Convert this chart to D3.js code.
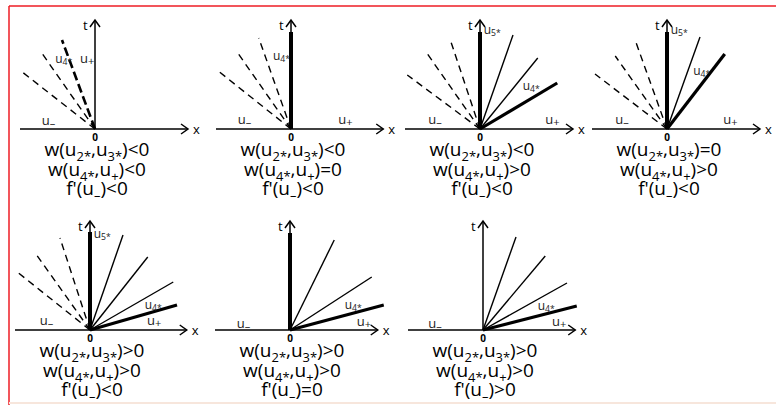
<!DOCTYPE html>
<html>
<head>
<meta charset="utf-8">
<script src="https://cdn.jsdelivr.net/npm/d3@7"></script>
<style>
  body { margin: 0; background: #fff; }
  svg { display: block; }
</style>
</head>
<body>
<svg id="chart"></svg>
<script>
const W = 776, H = 405;

// sign conditions written under each sketch
const w23Sign = ["<0", "<0", "<0", "=0", ">0", ">0", ">0"];
const w4Sign  = ["<0", "=0", ">0", ">0", ">0", ">0", ">0"];
const fSign   = ["<0", "<0", "<0", "<0", "<0", "=0", ">0"];

// rays from the origin, end points given as [x, t]
const dashedRays = [
  [[-0.44, 0.89], [-0.71, 0.76], [-0.97, 0.57]],
  [[-0.43, 0.91], [-0.71, 0.76], [-0.97, 0.58]],
  [[-0.40, 0.90], [-0.71, 0.76], [-0.97, 0.54]],
  [[-0.43, 0.90], [-0.69, 0.73], [-0.96, 0.55]],
  [[-0.40, 0.92], [-0.73, 0.77], [-0.97, 0.58]],
  [],
  []
];
// which dashed ray is drawn heavy (-1 = none)
const heavyDashed = [0, -1, -1, -1, -1, -1, -1];
const thinRays = [
  [],
  [],
  [[0.44, 0.94], [0.77, 0.71]],
  [[0.44, 0.92]],
  [[0.44, 0.95], [0.77, 0.73], [1.11, 0.48]],
  [[0.59, 0.90], [1.09, 0.53]],
  [[0.44, 0.93], [0.83, 0.74], [1.12, 0.47]]
];
const heavyRays = [
  [],
  [[0, 0.97]],
  [[0, 0.97], [1.03, 0.46]],
  [[0, 0.97], [0.77, 0.75]],
  [[0, 0.98], [1.16, 0.25]],
  [[0, 0.97], [1.25, 0.25]],
  [[1.25, 0.24]]
];
// region / wave labels: [text, x, t]
const waveLabels = [
  [["u_{4*}", -0.53, 0.64], ["u_{+}", -0.20, 0.64], ["u_{–}", -0.71, 0.02]],
  [["u_{4*}", -0.24, 0.67], ["u_{–}", -0.71, 0.03], ["u_{+}", 0.63, 0.03]],
  [["u_{5*}", 0.05, 0.93], ["u_{4*}", 0.57, 0.37], ["u_{–}", -0.69, 0.03], ["u_{+}", 0.87, 0.03]],
  [["u_{5*}", 0.05, 0.93], ["u_{4*}", 0.35, 0.52], ["u_{–}", -0.69, 0.03], ["u_{+}", 0.75, 0.03]],
  [["u_{5*}", 0.05, 0.90], ["u_{4*}", 0.73, 0.19], ["u_{–}", -0.67, 0.03], ["u_{+}", 0.76, 0.03]],
  [["u_{4*}", 0.73, 0.19], ["u_{–}", -0.71, 0.00], ["u_{+}", 0.89, 0.02]],
  [["u_{4*}", 0.73, 0.18], ["u_{–}", -0.73, 0.00], ["u_{+}", 0.92, 0.02]]
];
const xAxisEnd = [1.24, 1.23, 1.24, 1.24, 1.29, 1.17, 1.23];
const tAxisEnd = 1.09;

// layout of the 4 + 3 grid (origin of each sketch)
const colX = [[95, 291, 480, 667], [90, 290, 483]];
const rowY = [129, 330];
const origins = [];
colX.forEach((cols, r) => cols.forEach(x => origins.push([x, rowY[r]])));

const FONT = "'Open Sans', 'Liberation Sans', sans-serif";

const svg = d3.select("#chart").attr("width", W).attr("height", H);
svg.append("rect").attr("width", W).attr("height", H).attr("fill", "#fff");

// frame of the original figure
svg.append("line").attr("x1", 9).attr("y1", 6).attr("x2", W).attr("y2", 6)
  .attr("stroke", "#ee1c24").attr("stroke-width", 1.5);
svg.append("line").attr("x1", 9).attr("y1", 6).attr("x2", 9).attr("y2", H)
  .attr("stroke", "#ee1c24").attr("stroke-width", 1.5);
svg.append("line").attr("x1", 9).attr("y1", 403).attr("x2", W).attr("y2", 403)
  .attr("stroke", "#f7e6dc").attr("stroke-width", 2);

// text with _{...} subscripts
function richText(sel, str, size, subScale, shift) {
  const parts = str.split(/(_\{[^}]*\})/).filter(s => s.length);
  let down = false;
  parts.forEach(p => {
    const m = p.match(/^_\{([^}]*)\}$/);
    if (m) {
      sel.append("tspan").attr("dy", size * shift).style("font-size", (size * subScale) + "px").text(m[1]);
      down = true;
    } else {
      sel.append("tspan").attr("dy", down ? -size * shift : 0).style("font-size", size + "px").text(p);
      down = false;
    }
  });
  return sel;
}

function arrow(g, x, y, dir) {
  const a = 7, b = 5;
  const d = dir === "up"
    ? `M${x - b},${y + a}L${x},${y}L${x + b},${y + a}`
    : `M${x - a},${y - b}L${x},${y}L${x - a},${y + b}`;
  g.append("path").attr("d", d).attr("fill", "none")
    .attr("stroke", "#000").attr("stroke-width", 1.5);
}

origins.forEach(([ox, oy], i) => {
  const x = d3.scaleLinear().domain([-1, 1]).range([ox - 75, ox + 75]);
  const t = d3.scaleLinear().domain([0, 1]).range([oy, oy - 100]);
  const g = svg.append("g");
  const ray = d3.line().x(d => x(d[0])).y(d => t(d[1]));

  // axes
  g.append("line").attr("x1", x(-1)).attr("x2", x(xAxisEnd[i])).attr("y1", t(0)).attr("y2", t(0))
    .attr("stroke", "#000").attr("stroke-width", 1.5);
  arrow(g, x(xAxisEnd[i]), t(0), "right");
  g.append("line").attr("x1", x(0)).attr("x2", x(0)).attr("y1", t(0)).attr("y2", t(tAxisEnd))
    .attr("stroke", "#000").attr("stroke-width", 1.5);
  arrow(g, x(0), t(tAxisEnd), "up");

  dashedRays[i].forEach((p, k) => {
    g.append("path").attr("d", ray([[0, 0], p])).attr("fill", "none")
      .attr("stroke", "#000")
      .attr("stroke-width", k === heavyDashed[i] ? 2.6 : 1.4)
      .attr("stroke-dasharray", k === heavyDashed[i] ? "9,4" : "7,5");
  });
  thinRays[i].forEach(p => {
    g.append("path").attr("d", ray([[0, 0], p])).attr("fill", "none")
      .attr("stroke", "#000").attr("stroke-width", 1.4);
  });
  heavyRays[i].forEach(p => {
    g.append("path").attr("d", ray([[0, 0], p])).attr("fill", "none")
      .attr("stroke", "#000").attr("stroke-width", p[0] === 0 ? 4 : 3.2);
  });

  // axis names
  g.append("text").attr("x", x(0) - 12).attr("y", t(tAxisEnd) + 10)
    .style("font-family", FONT).style("font-size", "13px").text("t");
  g.append("text").attr("x", x(xAxisEnd[i]) + 5).attr("y", t(0) + 5)
    .style("font-family", FONT).style("font-size", "13px").text("x");
  g.append("text").attr("x", x(0)).attr("y", t(0) + 12).attr("text-anchor", "middle")
    .style("font-family", FONT).style("font-size", "10px").style("font-weight", "bold").text("0");

  waveLabels[i].forEach(([s, lx, lt]) => {
    const star = s.includes("*");
    richText(g.append("text").attr("x", x(lx)).attr("y", t(lt) - 2)
      .style("font-family", FONT).attr("fill", "#222"), s, star ? 12 : 13, star ? 0.72 : 0.85, star ? 0.2 : 0.12);
  });

  // conditions
  const conds = [
    "w(u_{2*},u_{3*})" + w23Sign[i],
    "w(u_{4*},u_{+})" + w4Sign[i],
    "f'(u_{–})" + fSign[i]
  ];
  conds.forEach((c, k) => {
    richText(g.append("text").attr("x", x(0) + 2).attr("y", t(0) + 27 + k * 19.5)
      .attr("text-anchor", "middle").style("font-family", FONT), c, 19, 0.68, 0.28);
  });
});
</script>
</body>
</html>
